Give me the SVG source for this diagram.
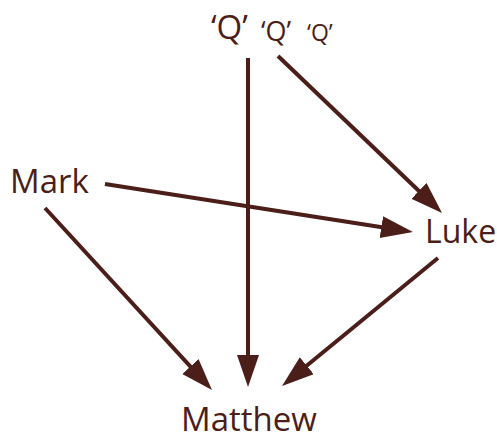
<svg xmlns="http://www.w3.org/2000/svg" width="497" height="432" viewBox="0 0 497 432">
<style>
.lbl{font-family:"Open Sans","Noto Sans",sans-serif;fill:#4b1e19}
.edge{stroke:#4b1e19;stroke-width:4;fill:none}
</style>
<defs>
<marker id="ah" markerUnits="userSpaceOnUse" markerWidth="34" markerHeight="24" viewBox="0 0 34 24" refX="12" refY="11" orient="auto">
<path d="M0,0 L32,11 L0,22 z" fill="#4b1e19"/>
</marker>
</defs>
<rect width="497" height="432" fill="#fff"/>
<g id="connectors">
<line class="edge" x1="248" y1="58" x2="248" y2="367" marker-end="url(#ah)"/>
<line class="edge" x1="105" y1="184" x2="393.2" y2="228.9" marker-end="url(#ah)"/>
<line class="edge" x1="278" y1="56" x2="427.6" y2="199.2" marker-end="url(#ah)"/>
<line class="edge" x1="45" y1="208" x2="198.5" y2="375.3" marker-end="url(#ah)"/>
<line class="edge" x1="438" y1="258" x2="297.5" y2="373.3" marker-end="url(#ah)"/>
</g>
<g id="q1"><text class="lbl" x="211" y="39" font-size="33">‘Q’</text></g>
<g id="q2"><text class="lbl" x="261" y="41" font-size="27">‘Q’</text></g>
<g id="q3"><text class="lbl" x="307" y="41" font-size="23">‘Q’</text></g>
<g id="mark"><text class="lbl" x="10" y="193" font-size="33">Mark</text></g>
<g id="luke"><text class="lbl" x="425" y="243" font-size="32">Luke</text></g>
<g id="matthew"><text class="lbl" x="181" y="431" font-size="33">Matthew</text></g>
</svg>
